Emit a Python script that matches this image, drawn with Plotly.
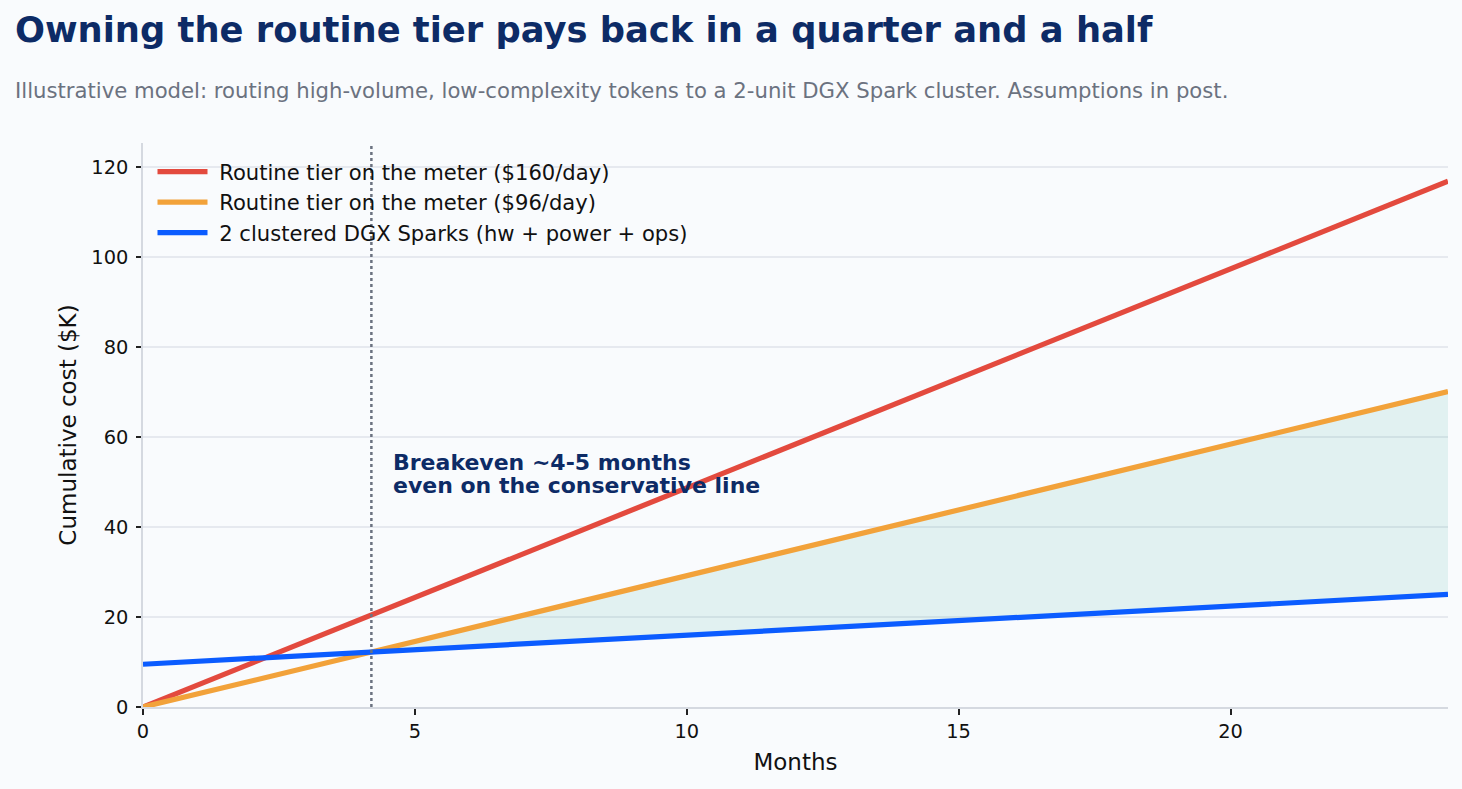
import plotly.graph_objects as go

# Data, cumulative cost in $K
months = [0, 4.2, 24]
meter_160 = [0, 20.4, 116.8]
meter_96 = [0, 12.2, 70.1]
dgx_cluster = [9.5, 12.2, 25.0]
breakeven_month = 4.2

series_names = [
    "Routine tier on the meter ($160/day)",
    "Routine tier on the meter ($96/day)",
    "2 clustered DGX Sparks (hw + power + ops)",
]
x_ticks = [0, 5, 10, 15, 20]
y_ticks = [0, 20, 40, 60, 80, 100, 120]

RED = "#e34a3e"
ORANGE = "#f2a23a"
BLUE = "#0b5cff"
NAVY = "#0d2b66"
BG = "#f9fbfd"

W, H = 1462, 789
L, R, T, B = 143, 14, 143, 82
plot_h = H - T - B
Y_MAX = 125.3

def py(px):
    return (H - B - px) / plot_h

def px_x(px):
    return (px - L) / (W - L - R)

def dy(px):
    return (H - B - px) / plot_h * Y_MAX

fig = go.Figure()

# fill between orange and blue after breakeven
fig.add_trace(go.Scatter(x=months[1:], y=dgx_cluster[1:], mode="lines",
                         line=dict(width=0, color="rgba(0,0,0,0)"),
                         showlegend=False, hoverinfo="skip"))
fig.add_trace(go.Scatter(x=months[1:], y=meter_96[1:], mode="lines",
                         line=dict(width=1, color="rgba(20,150,130,0.08)"),
                         fill="tonexty", fillcolor="rgba(20,160,135,0.10)",
                         showlegend=False, hoverinfo="skip"))

LEG_PAD = "\u00a0"
fig.add_trace(go.Scatter(x=months, y=meter_160, mode="lines", name=LEG_PAD + series_names[0],
                         line=dict(color=RED, width=5.2)))
fig.add_trace(go.Scatter(x=months, y=meter_96, mode="lines", name=LEG_PAD + series_names[1],
                         line=dict(color=ORANGE, width=5.2)))
fig.add_trace(go.Scatter(x=months, y=dgx_cluster, mode="lines", name=LEG_PAD + series_names[2],
                         line=dict(color=BLUE, width=5.2)))

# breakeven dotted line
fig.add_shape(type="line", x0=breakeven_month, x1=breakeven_month, xref="x",
              y0=0, y1=1, yref="paper",
              line=dict(color="#6b7280", width=2.5, dash="dot"), layer="above")

ann_font = dict(family="DejaVu Sans", size=22, color=NAVY)
fig.add_annotation(x=4.57, y=dy(462), xref="x", yref="y", xanchor="left", yanchor="middle",
                   showarrow=False, text="<b>Breakeven ~4-5 months</b>", font=ann_font)
fig.add_annotation(x=4.57, y=dy(485), xref="x", yref="y", xanchor="left", yanchor="middle",
                   showarrow=False, text="<b>even on the conservative line</b>", font=ann_font)

fig.add_annotation(x=px_x(13), y=py(30), xref="paper", yref="paper", xanchor="left",
                   yanchor="middle", showarrow=False,
                   text="<b>Owning the routine tier pays back in a quarter and a half</b>",
                   font=dict(family="DejaVu Sans", size=35.3, color=NAVY))
fig.add_annotation(x=px_x(13), y=py(91), xref="paper", yref="paper", xanchor="left",
                   yanchor="middle", showarrow=False,
                   text="Illustrative model: routing high-volume, low-complexity tokens to a 2-unit DGX Spark cluster. Assumptions in post.",
                   font=dict(family="DejaVu Sans", size=21.2, color="#6b7280"))

fig.update_layout(
    width=W, height=H,
    margin=dict(l=L, r=R, t=T, b=B),
    paper_bgcolor=BG, plot_bgcolor=BG,
    font=dict(family="DejaVu Sans", color="#111111"),
    legend=dict(x=px_x(152.5), y=0.985, xanchor="left", yanchor="top", traceorder="normal",
                bgcolor="rgba(0,0,0,0)", font=dict(size=21.1, color="#111111"),
                itemwidth=50),
    xaxis=dict(range=[0, 24], tickvals=x_ticks, showgrid=False, zeroline=False,
               showline=True, linecolor="#d5d9e0", linewidth=1.5,
               ticks="outside", ticklen=6, tickcolor="#222222", tickwidth=1.5,
               tickfont=dict(size=19.4), title=dict(text="Months", font=dict(size=23), standoff=12)),
    yaxis=dict(range=[0, Y_MAX], tickvals=y_ticks, showgrid=True, gridcolor="#e6e9ef",
               gridwidth=1.5, zeroline=False,
               showline=True, linecolor="#d5d9e0", linewidth=1.5,
               ticks="outside", ticklen=5, tickcolor="#222222", tickwidth=1.5,
               ticklabelstandoff=4,
               tickfont=dict(size=19.4), title=dict(text="Cumulative cost ($K)", font=dict(size=23), standoff=8)),
)

fig.write_html("out.html")
